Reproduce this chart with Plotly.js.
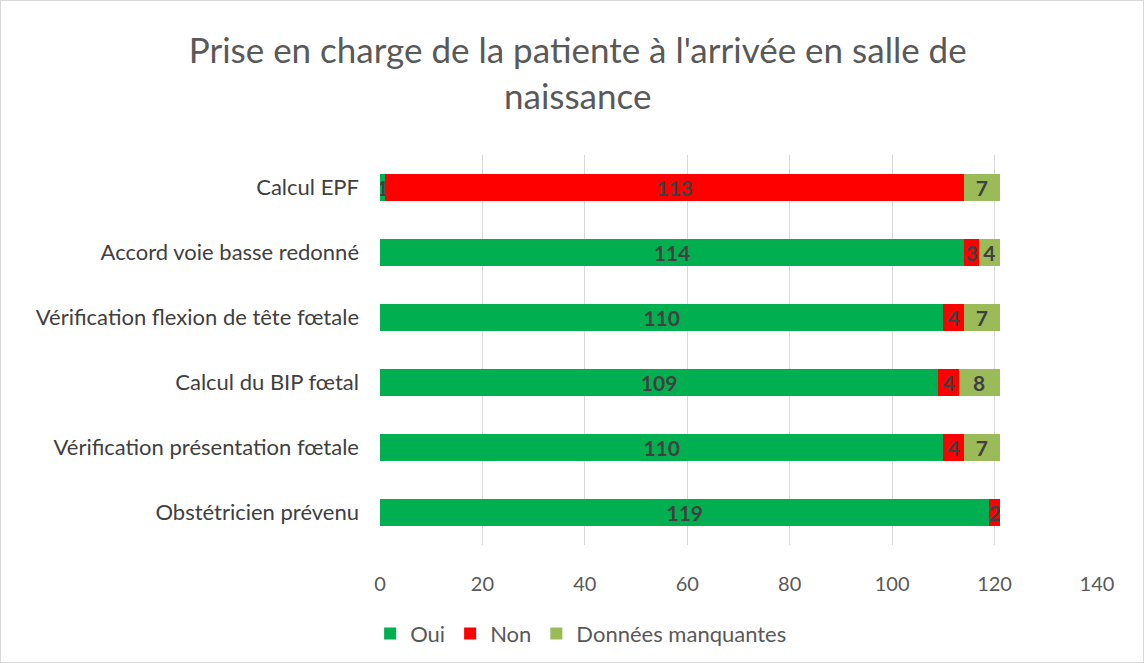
<!DOCTYPE html>
<html>
<head>
<meta charset="utf-8">
<script src="https://cdn.plot.ly/plotly-3.0.1.min.js"></script>
<style>
html,body{margin:0;padding:0;background:#fff;}
#chart{width:1142px;height:661px;border:1px solid #d9d9d9;}
</style>
</head>
<body>
<div id="chart"></div>
<script>
const categories = [
  "Obstétricien prévenu",
  "Vérification présentation fœtale",
  "Calcul du BIP fœtal",
  "Vérification flexion de tête fœtale",
  "Accord voie basse redonné",
  "Calcul EPF"
];
const oui = [119, 110, 109, 110, 114, 1];
const non = [2, 4, 4, 4, 3, 113];
const manquantes = [0, 7, 8, 7, 4, 7];
const seriesNames = ["Oui", "Non", "Données manquantes"];
const seriesColors = ["#00b050", "#ff0000", "#9bbb59"];
const xTicks = [0, 20, 40, 60, 80, 100, 120, 140];

const font = "Lato, 'Open Sans', sans-serif";
const traces = [oui, non, manquantes].map((vals, i) => ({
  type: "bar",
  orientation: "h",
  name: seriesNames[i],
  y: categories,
  x: vals,
  marker: {color: seriesColors[i], line: {width: 0}},
  text: vals.map(v => v ? String(v) : ""),
  textposition: "inside",
  textangle: 0,
  insidetextanchor: "middle",
  constraintext: "none",
  insidetextfont: {family: font, size: 21, color: "#404040", weight: "bold"},
  hoverinfo: "x+name"
}));

const layout = {
  width: 1142, height: 661,
  paper_bgcolor: "#fff", plot_bgcolor: "#fff",
  barmode: "stack",
  bargap: 0.59,
  margin: {l: 379, r: 46, t: 154, b: 117},
  font: {family: font, color: "#595959"},
  title: {
    text: "Prise en charge de la patiente à l'arrivée en salle de<br>naissance",
    font: {family: font, size: 35, color: "#595959"},
    x: 0.505, xref: "container", xanchor: "center",
    y: 0.906, yref: "container", yanchor: "middle"
  },
  xaxis: {
    range: [0, 140], tickvals: xTicks, ticktext: xTicks.map(String),
    showgrid: true, gridcolor: "#d9d9d9", gridwidth: 1,
    zeroline: false, showline: false, ticks: "",
    ticklabelstandoff: 25,
    tickfont: {family: font, size: 20, color: "#595959"}
  },
  yaxis: {
    type: "category", categoryorder: "array", categoryarray: categories,
    showgrid: false, zeroline: false, showline: false, ticks: "",
    ticklabelstandoff: 20,
    tickfont: {family: font, size: 22, color: "#404040"}
  },
  legend: {
    orientation: "h", xref: "container", yref: "container",
    x: 0.508, xanchor: "center", y: 0.043, yanchor: "middle",
    font: {family: font, size: 22, color: "#595959"},
    itemwidth: 30, tracegroupgap: 0,
    traceorder: "normal"
  },
  showlegend: true
};

Plotly.newPlot("chart", traces, layout, {displayModeBar: false, staticPlot: true});
</script>
</body>
</html>
